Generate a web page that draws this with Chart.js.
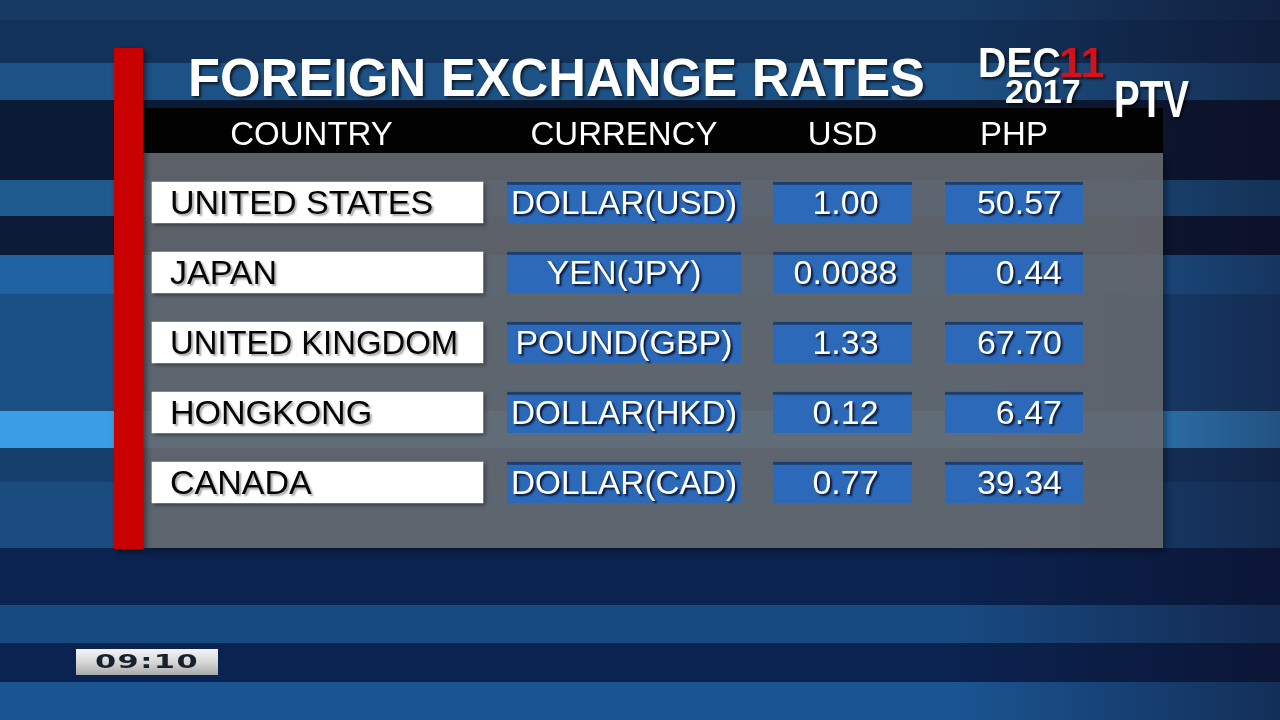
<!DOCTYPE html>
<html>
<head>
<meta charset="utf-8">
<title>Foreign Exchange Rates</title>
<script src="https://cdn.jsdelivr.net/npm/chart.js@4.4.1/dist/chart.umd.min.js"></script>
<style>
  html, body { margin: 0; padding: 0; background: #0c1b35; }
  canvas { display: block; }
</style>
</head>
<body>
<canvas id="fxChart" width="1280" height="720"></canvas>
<script>
// Table data
const COLUMNS = ["COUNTRY", "CURRENCY", "USD", "PHP"];
const COUNTRIES = ["UNITED STATES", "JAPAN", "UNITED KINGDOM", "HONGKONG", "CANADA"];
const CURRENCIES = ["DOLLAR(USD)", "YEN(JPY)", "POUND(GBP)", "DOLLAR(HKD)", "DOLLAR(CAD)"];
const USD_RATES = ["1.00", "0.0088", "1.33", "0.12", "0.77"];
const PHP_RATES = ["50.57", "0.44", "67.70", "6.47", "39.34"];

const TITLE = "FOREIGN EXCHANGE RATES";
const DATE_MONTH = "DEC";
const DATE_DAY = "11";
const DATE_YEAR = "2017";
const CLOCK = "09:10";

// Layout (pixels of the 1280x720 frame)
const CELL_SPANS = [[152, 483], [507, 741], [773, 912], [945, 1083]];
const STRIPES = [
  [0, 20, "#163a63"], [20, 63, "#12325a"], [63, 100, "#1d5286"],
  [100, 180, "#0c1b35"], [180, 216, "#1d5a8e"], [216, 255, "#0c1b36"],
  [255, 294, "#1f63a2"], [294, 411, "#1a4f86"], [411, 448, "#3a9de6"],
  [448, 482, "#173f6d"], [482, 548, "#1a4c80"], [548, 605, "#0b2350"],
  [605, 643, "#184a82"], [643, 682, "#0b2350"], [682, 720, "#1a5592"]
];

const FONT = '"Liberation Sans", Arial, sans-serif';
const CELL_BLUE = "#2c69b9";

// draw text horizontally squeezed to a given width
function squeezeText(ctx, text, x, y, width, align) {
  const w = ctx.measureText(text).width;
  const sx = Math.min(1, width / w);
  ctx.save();
  ctx.translate(x, y);
  ctx.scale(sx, 1);
  ctx.textAlign = align || "left";
  ctx.fillText(text, 0, 0);
  ctx.restore();
  return w * sx;
}

// Background, frame, title, header bar
const framePlugin = {
  id: "frame",
  beforeDraw(chart) {
    const ctx = chart.ctx;
    ctx.save();
    STRIPES.forEach(([y0, y1, c]) => {
      ctx.fillStyle = c;
      ctx.fillRect(0, y0, 1280, y1 - y0);
    });
    // darker right side
    let g = ctx.createLinearGradient(950, 0, 1280, 0);
    g.addColorStop(0, "rgba(12,8,30,0)");
    g.addColorStop(1, "rgba(12,8,30,0.5)");
    ctx.fillStyle = g;
    ctx.fillRect(0, 0, 1280, 720);

    // grey panel
    ctx.shadowColor = "rgba(0,0,0,0.5)";
    ctx.shadowBlur = 8;
    ctx.shadowOffsetX = 3;
    ctx.shadowOffsetY = 3;
    ctx.fillStyle = "rgba(108,112,118,0.84)";
    ctx.fillRect(143, 153, 1020, 395);
    ctx.shadowColor = "transparent";

    // header bar
    ctx.fillStyle = "#020203";
    ctx.fillRect(143, 108, 1020, 45);

    // red bar
    ctx.shadowColor = "rgba(0,0,0,0.5)";
    ctx.shadowBlur = 6;
    ctx.shadowOffsetX = 3;
    ctx.fillStyle = "#c80000";
    ctx.fillRect(114, 48, 29, 501);
    ctx.shadowColor = "transparent";

    // title
    ctx.font = `bold 54px ${FONT}`;
    ctx.textBaseline = "alphabetic";
    ctx.shadowColor = "rgba(0,0,0,0.7)";
    ctx.shadowOffsetX = 2;
    ctx.shadowOffsetY = 2;
    ctx.shadowBlur = 3;
    ctx.fillStyle = "#ffffff";
    squeezeText(ctx, TITLE, 188, 96, 737);

    // date
    ctx.font = `bold 43px ${FONT}`;
    const dw = squeezeText(ctx, DATE_MONTH, 978, 77, 83);
    ctx.fillStyle = "#d3131b";
    squeezeText(ctx, DATE_DAY, 978 + dw - 2, 77, 50);
    ctx.fillStyle = "#ffffff";
    ctx.font = `bold 34px ${FONT}`;
    squeezeText(ctx, DATE_YEAR, 1005, 103, 78);

    // logo
    ctx.font = `bold 52px ${FONT}`;
    squeezeText(ctx, "PTV", 1114, 117, 75);

    // clock box
    ctx.shadowColor = "transparent";
    g = ctx.createLinearGradient(0, 649, 0, 675);
    g.addColorStop(0, "#f4f4f4");
    g.addColorStop(0.5, "#d8d8d8");
    g.addColorStop(1, "#a9a9a9");
    ctx.fillStyle = g;
    ctx.fillRect(76, 649, 142, 26);
    ctx.fillStyle = "#17202f";
    ctx.font = `bold 21px "DejaVu Sans", sans-serif`;
    ctx.textBaseline = "middle";
    ctx.save();
    ctx.translate(147, 663);
    ctx.scale(1.45, 0.9);
    ctx.letterSpacing = "1px";
    ctx.textAlign = "center";
    ctx.fillText(CLOCK, 0, 0);
    ctx.restore();
    ctx.restore();
  }
};

// shadows under the cells
const cellShadowPlugin = {
  id: "cellShadow",
  beforeDatasetsDraw(chart) {
    const ctx = chart.ctx;
    ctx.save();
    ctx.shadowColor = "rgba(0,0,0,0.45)";
    ctx.shadowBlur = 4;
    ctx.shadowOffsetX = 2;
    ctx.shadowOffsetY = 2;
  },
  afterDatasetsDraw(chart) {
    chart.ctx.restore();
  }
};

// cell texts and column headers
const cellTextPlugin = {
  id: "cellText",
  afterDatasetsDraw(chart) {
    const ctx = chart.ctx;
    const texts = [COUNTRIES, CURRENCIES, USD_RATES, PHP_RATES];
    ctx.save();
    ctx.textBaseline = "middle";
    chart.data.datasets.forEach((ds, i) => {
      const meta = chart.getDatasetMeta(i);
      meta.data.forEach((el, j) => {
        const left = Math.min(el.x, el.base);
        const right = Math.max(el.x, el.base);
        const cx = (left + right) / 2;
        const cy = el.y + 2;
        ctx.font = `34px ${FONT}`;
        if (i === 0) {
          ctx.fillStyle = "#050505";
          ctx.shadowColor = "rgba(0,0,0,0.35)";
          ctx.shadowOffsetX = 2;
          ctx.shadowOffsetY = 2;
          ctx.shadowBlur = 2;
          squeezeText(ctx, texts[i][j], left + 18, cy, right - left - 43, "left");
        } else {
          ctx.fillStyle = "#ffffff";
          ctx.shadowColor = "rgba(0,0,20,0.8)";
          ctx.shadowOffsetX = 2;
          ctx.shadowOffsetY = 2;
          ctx.shadowBlur = 2;
          if (i === 3) squeezeText(ctx, texts[i][j], right - 21, cy, right - left - 10, "right");
          else squeezeText(ctx, texts[i][j], cx + (i === 2 ? 3 : 0), cy, right - left - 8, "center");
        }
      });
      // column header over the first cell of each column
      const first = meta.data[0];
      const hx = (first.x + first.base) / 2 + (i === 0 ? -6 : 0);
      ctx.shadowColor = "transparent";
      ctx.fillStyle = "#ffffff";
      ctx.font = `33px ${FONT}`;
      ctx.textBaseline = "alphabetic";
      squeezeText(ctx, COLUMNS[i], hx, 145, 200, "center");
      ctx.textBaseline = "middle";
    });
    ctx.restore();
  }
};

function cellDataset(label, col, color, border) {
  return {
    label: label,
    data: COUNTRIES.map(() => CELL_SPANS[col]),
    backgroundColor: color,
    borderColor: border,
    borderWidth: border ? { top: 3, left: 0, right: 0, bottom: 0 } : 0,
    borderSkipped: false,
    barThickness: 41,
    grouped: false
  };
}

const fxChart = new Chart(document.getElementById("fxChart"), {
  type: "bar",
  data: {
    labels: COUNTRIES,
    datasets: [
      cellDataset(COLUMNS[0], 0, "#ffffff", null),
      cellDataset(COLUMNS[1], 1, CELL_BLUE, "#1d3f6e"),
      cellDataset(COLUMNS[2], 2, CELL_BLUE, "#1d3f6e"),
      cellDataset(COLUMNS[3], 3, CELL_BLUE, "#1d3f6e")
    ]
  },
  options: {
    indexAxis: "y",
    responsive: false,
    animation: false,
    layout: { padding: { top: 167.5, bottom: 202.5, left: 0, right: 0 } },
    scales: {
      x: { type: "linear", min: 0, max: 1280, display: false },
      y: { type: "category", offset: true, display: false }
    },
    plugins: {
      legend: { display: false },
      tooltip: { enabled: false }
    }
  },
  plugins: [framePlugin, cellShadowPlugin, cellTextPlugin]
});
</script>
</body>
</html>
